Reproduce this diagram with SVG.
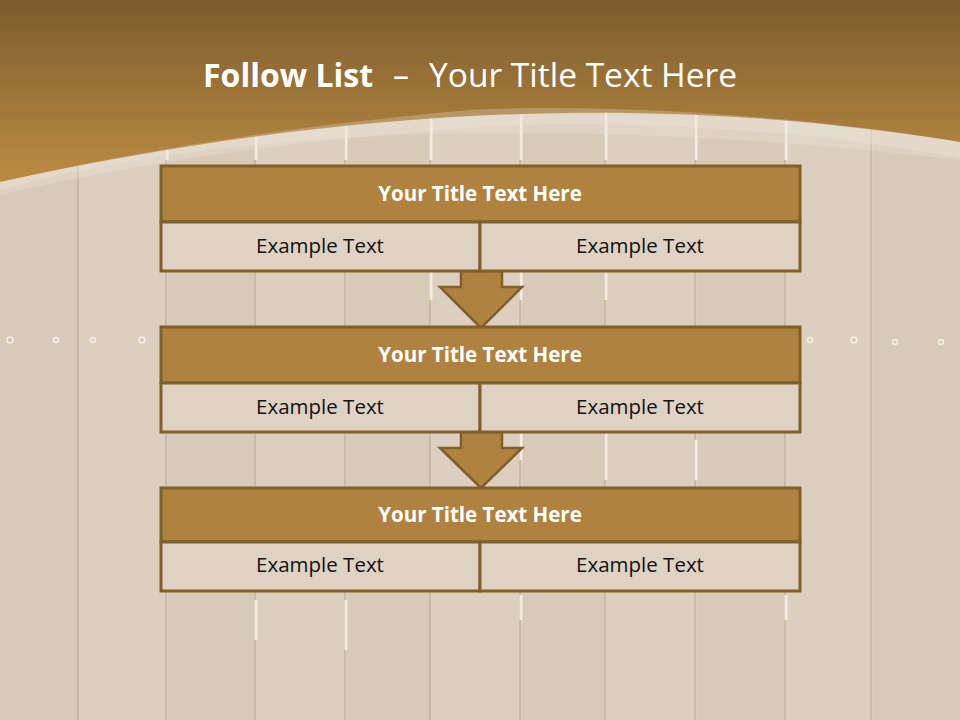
<svg xmlns="http://www.w3.org/2000/svg" width="960" height="720" viewBox="0 0 960 720">
  <defs>
    <linearGradient id="banner" x1="0" y1="0" x2="0" y2="1">
      <stop offset="0" stop-color="#7c5c2d"/>
      <stop offset="1" stop-color="#bb8b42"/>
    </linearGradient>
    <style>
      .plank { fill: #dccfbf; }
      .plank2 { fill: #d8cab9; }
      .gap { stroke: #f2ece4; stroke-width: 3; }
      .seam { stroke: #c9baa8; stroke-width: 2; }
      .title { fill: #b0823f; stroke: #7f5f2a; stroke-width: 3; }
      .cell { fill: #dfd2c2; stroke: #7f5f2a; stroke-width: 3; }
      .arrow { fill: #b0823f; stroke: #7f5f2a; stroke-width: 2.5; stroke-linejoin: miter; }
      .ttl { font-family: "Open Sans", "Liberation Sans", sans-serif; font-weight: bold; font-size: 20.5px; fill: #ffffff; text-anchor: middle; }
      .ex { font-family: "Open Sans", "Liberation Sans", sans-serif; font-size: 20.5px; fill: #111111; text-anchor: middle; }
      .dot { fill: none; stroke: #f4f0ea; stroke-width: 1.5; }
      .head { font-family: "Open Sans", "Liberation Sans", sans-serif; font-size: 32px; fill: #ffffff; }
    </style>
  </defs>

  <!-- wood background -->
  <rect x="0" y="0" width="960" height="720" fill="#dccfbf"/>
  <g id="planks">
    <rect class="plank2" x="0" y="0" width="78" height="720"/>
    <rect class="plank" x="80" y="0" width="86" height="720"/>
    <rect class="plank2" x="168" y="0" width="86" height="720"/>
    <rect class="plank" x="257" y="0" width="87" height="720"/>
    <rect class="plank2" x="347" y="0" width="82" height="720"/>
    <rect class="plank" x="432" y="0" width="87" height="720"/>
    <rect class="plank2" x="522" y="0" width="82" height="720"/>
    <rect class="plank" x="607" y="0" width="87" height="720"/>
    <rect class="plank2" x="697" y="0" width="87" height="720"/>
    <rect class="plank" x="787" y="0" width="83" height="720"/>
    <rect class="plank2" x="873" y="0" width="87" height="720"/>
    <line class="seam" x1="78" y1="0" x2="78" y2="720"/>
    <line class="seam" x1="166" y1="0" x2="166" y2="720"/>
    <line class="seam" x1="255" y1="0" x2="255" y2="720"/>
    <line class="seam" x1="345" y1="0" x2="345" y2="720"/>
    <line class="seam" x1="430" y1="0" x2="430" y2="720"/>
    <line class="seam" x1="520" y1="0" x2="520" y2="720"/>
    <line class="seam" x1="605" y1="0" x2="605" y2="720"/>
    <line class="seam" x1="695" y1="0" x2="695" y2="720"/>
    <line class="seam" x1="785" y1="0" x2="785" y2="720"/>
    <line class="seam" x1="871" y1="0" x2="871" y2="720"/>
    <line class="gap" x1="167" y1="110" x2="167" y2="160"/>
    <line class="gap" x1="256" y1="110" x2="256" y2="160"/>
    <line class="gap" x1="346" y1="110" x2="346" y2="160"/>
    <line class="gap" x1="431" y1="110" x2="431" y2="160"/>
    <line class="gap" x1="521" y1="110" x2="521" y2="160"/>
    <line class="gap" x1="606" y1="110" x2="606" y2="160"/>
    <line class="gap" x1="696" y1="110" x2="696" y2="160"/>
    <line class="gap" x1="786" y1="110" x2="786" y2="160"/>
    <line class="gap" x1="521" y1="272" x2="521" y2="300"/>
    <line class="gap" x1="606" y1="272" x2="606" y2="300"/>
    <line class="gap" x1="431" y1="272" x2="431" y2="300"/>
    <line class="gap" x1="606" y1="432" x2="606" y2="480"/>
    <line class="gap" x1="696" y1="440" x2="696" y2="480"/>
    <line class="gap" x1="521" y1="432" x2="521" y2="460"/>
    <line class="gap" x1="256" y1="600" x2="256" y2="640"/>
    <line class="gap" x1="346" y1="600" x2="346" y2="650"/>
    <line class="gap" x1="521" y1="595" x2="521" y2="620"/>
    <line class="gap" x1="786" y1="595" x2="786" y2="620"/>
    <circle class="dot" cx="10" cy="340" r="3"/>
    <circle class="dot" cx="56" cy="340" r="2.5"/>
    <circle class="dot" cx="93" cy="340" r="2.5"/>
    <circle class="dot" cx="142" cy="340" r="3"/>
    <circle class="dot" cx="810" cy="340" r="2.5"/>
    <circle class="dot" cx="854" cy="340" r="3"/>
    <circle class="dot" cx="895" cy="342" r="2.5"/>
    <circle class="dot" cx="941" cy="342" r="2.5"/>
  </g>

  <!-- top banner -->
  <g id="banner-group">
    <path d="M0,150 C200,115 560,100 960,130 L960,160 C620,120 250,120 0,190 Z" fill="#efe6dc" opacity="0.3"/>
    <path d="M0,0 H960 V142 C700,100 400,95 0,182 Z" fill="url(#banner)"/>
    <path d="M0,182 C150,148 300,125 470,110 C600,103 800,115 960,142 L960,158 C800,128 600,118 470,128 C300,140 150,160 0,195 Z" fill="#f4ede4" opacity="0.25"/>
    <text class="head" x="203" y="87" font-weight="bold">Follow List</text>
    <text class="head" x="393" y="87">–</text>
    <text class="head" x="429" y="87" style="font-size:33.5px">Your Title Text Here</text>
  </g>

  <!-- connectors -->
  <g id="connectors">
    <path class="arrow" d="M461,271 H502 V287 H522 L481,328 L440,287 H461 Z"/>
    <path class="arrow" d="M461,432 H502 V448 H522 L481,488 L440,448 H461 Z"/>
  </g>

  <g id="node1">
    <rect class="title" x="161" y="166" width="639" height="56"/>
    <rect class="cell" x="161" y="222" width="319" height="49"/>
    <rect class="cell" x="480" y="222" width="320" height="49"/>
    <text class="ttl" x="480" y="201">Your Title Text Here</text>
    <text class="ex" x="320" y="253">Example Text</text>
    <text class="ex" x="640" y="253">Example Text</text>
  </g>

  <g id="node2">
    <rect class="title" x="161" y="327" width="639" height="56"/>
    <rect class="cell" x="161" y="383" width="319" height="49"/>
    <rect class="cell" x="480" y="383" width="320" height="49"/>
    <text class="ttl" x="480" y="362">Your Title Text Here</text>
    <text class="ex" x="320" y="414">Example Text</text>
    <text class="ex" x="640" y="414">Example Text</text>
  </g>

  <g id="node3">
    <rect class="title" x="161" y="488" width="639" height="54"/>
    <rect class="cell" x="161" y="542" width="319" height="49"/>
    <rect class="cell" x="480" y="542" width="320" height="49"/>
    <text class="ttl" x="480" y="522">Your Title Text Here</text>
    <text class="ex" x="320" y="572">Example Text</text>
    <text class="ex" x="640" y="572">Example Text</text>
  </g>
</svg>
